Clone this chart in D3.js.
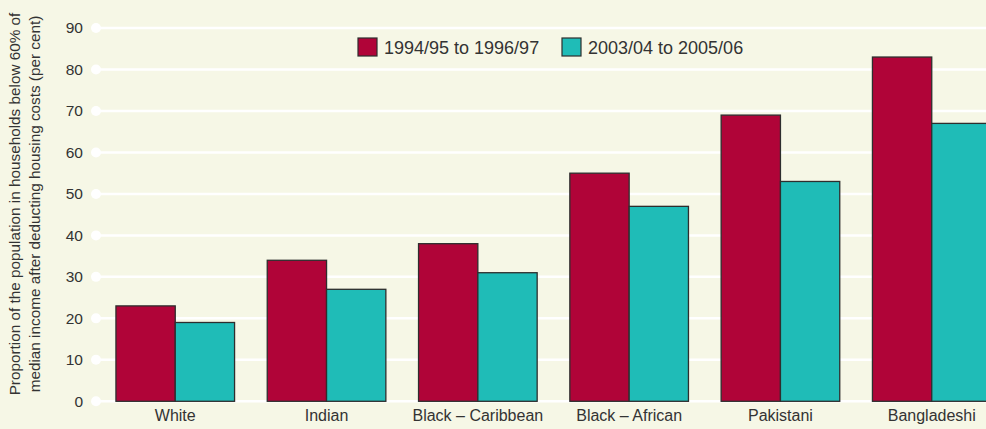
<!DOCTYPE html>
<html>
<head>
<meta charset="utf-8">
<script src="https://cdn.jsdelivr.net/npm/d3@7"></script>
<style>
  html, body { margin: 0; padding: 0; background: #f6f7e6; }
  svg { display: block; font-family: "Liberation Sans", Arial, sans-serif; }
</style>
</head>
<body>
<div class="chart"></div>
<script>
// chart data
const groups = ["White", "Indian", "Black \u2013 Caribbean", "Black \u2013 African", "Pakistani", "Bangladeshi"];
const seriesNames = ["1994/95 to 1996/97", "2003/04 to 2005/06"];
const early = [23, 34, 38, 55, 69, 83];
const late = [19, 27, 31, 47, 53, 67];
const yTicks = [0, 10, 20, 30, 40, 50, 60, 70, 80, 90];

// size of the chart
const w = 986, h = 429;
const colors = ["#b00438", "#1fbcb7"];

const svg = d3.select("div.chart")
    .append("svg")
    .attr("width", w)
    .attr("height", h);

svg.append("rect")
    .attr("width", w)
    .attr("height", h)
    .attr("fill", "#f6f7e6");

// scales
const y = d3.scaleLinear()
    .domain([0, 90])
    .range([401.3, 28]);

const x0 = d3.scaleBand()
    .domain(groups)
    .range([99.6, 1007.4])
    .paddingInner(0.216)
    .paddingOuter(0.108);

const x1 = d3.scaleBand()
    .domain(seriesNames)
    .range([0, x0.bandwidth()]);

// gridlines with round ends on the left
const grid = svg.append("g").attr("class", "grid");
grid.selectAll("line")
    .data(yTicks)
    .enter()
    .append("line")
    .attr("x1", 96)
    .attr("x2", w)
    .attr("y1", d => y(d))
    .attr("y2", d => y(d))
    .attr("stroke", "#ffffff")
    .attr("stroke-width", 2.5);
grid.selectAll("circle")
    .data(yTicks)
    .enter()
    .append("circle")
    .attr("cx", 96)
    .attr("cy", d => y(d))
    .attr("r", 5)
    .attr("fill", "#ffffff");

// y axis tick labels
const yAxis = d3.axisLeft(y).tickValues(yTicks).tickSize(0).tickPadding(0);
svg.append("g")
    .attr("transform", "translate(83,0)")
    .call(yAxis)
    .call(g => g.select(".domain").remove())
    .selectAll("text")
    .attr("font-size", "15.5px")
    .attr("font-family", "Liberation Sans, Arial, sans-serif")
    .attr("fill", "#333333");

// bars
const rows = groups.map((g, i) => ({ group: g, values: [early[i], late[i]] }));
const cell = svg.append("g")
    .selectAll("g")
    .data(rows)
    .enter()
    .append("g")
    .attr("transform", d => "translate(" + x0(d.group) + ",0)");

cell.selectAll("rect")
    .data(d => d.values.map((v, j) => ({ key: seriesNames[j], value: v, idx: j })))
    .enter()
    .append("rect")
    .attr("x", d => x1(d.key))
    .attr("y", d => y(d.value))
    .attr("width", x1.bandwidth())
    .attr("height", d => y(0) - y(d.value))
    .attr("fill", d => colors[d.idx])
    .attr("stroke", "#2e2e2e")
    .attr("stroke-width", 1.3);

// category labels
const xAxis = d3.axisBottom(x0).tickSize(0).tickPadding(0);
svg.append("g")
    .attr("transform", "translate(0,410)")
    .call(xAxis)
    .call(g => g.select(".domain").remove())
    .selectAll("text")
    .attr("dy", "0.71em")
    .attr("font-size", "16px")
    .attr("font-family", "Liberation Sans, Arial, sans-serif")
    .attr("fill", "#333333");

// y axis title, two lines
const title = svg.append("text")
    .attr("transform", "translate(0,204) rotate(-90)")
    .attr("text-anchor", "middle")
    .attr("font-size", "15.3px")
    .attr("fill", "#333333");
title.append("tspan").attr("x", 0).attr("y", 20).text("Proportion of the population in households below 60% of");
title.append("tspan").attr("x", 0).attr("y", 40).text("median income after deducting housing costs (per cent)");

// legend
const legend = svg.append("g").attr("transform", "translate(358,38)");
const legendX = [0, 204];
seriesNames.forEach((s, i) => {
    legend.append("rect")
        .attr("x", legendX[i])
        .attr("y", 0)
        .attr("width", 19)
        .attr("height", 18)
        .attr("fill", colors[i])
        .attr("stroke", "#2e2e2e")
        .attr("stroke-width", 1.2);
    legend.append("text")
        .attr("x", legendX[i] + 26)
        .attr("y", 16)
        .attr("font-size", "18px")
        .attr("fill", "#333333")
        .text(s);
});
</script>
</body>
</html>
